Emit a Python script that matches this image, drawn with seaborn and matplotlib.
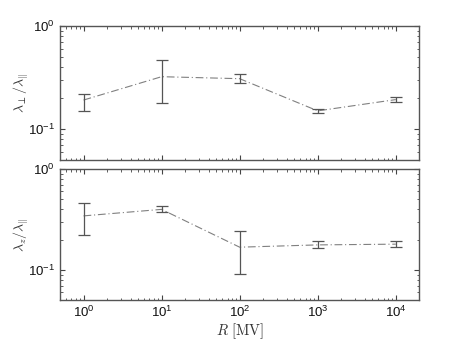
import numpy as np
import pandas as pd
import seaborn as sns
import matplotlib
matplotlib.use("Agg")
import matplotlib.pyplot as plt
from matplotlib.ticker import LogLocator, NullFormatter

# rigidity R [MV]
rigidity = [1, 10, 100, 1000, 10000]

# lambda_perp / lambda_par
perp_mid = [0.191, 0.322, 0.308, 0.150, 0.193]
perp_lo = [0.150, 0.180, 0.280, 0.144, 0.182]
perp_hi = [0.217, 0.464, 0.340, 0.156, 0.205]

# lambda_z / lambda_par
z_mid = [0.343, 0.398, 0.168, 0.177, 0.180]
z_lo = [0.224, 0.375, 0.091, 0.164, 0.168]
z_hi = [0.457, 0.430, 0.245, 0.194, 0.194]

sns.set_style("ticks")
plt.rcParams["font.family"] = ["Liberation Sans", "DejaVu Sans"]
# tick labels like 10^0 in a helvetica-ish sans
plt.rcParams["mathtext.fontset"] = "custom"
plt.rcParams["mathtext.rm"] = "Liberation Sans"
plt.rcParams["mathtext.it"] = "Liberation Sans:italic"
plt.rcParams["mathtext.bf"] = "Liberation Sans:bold"

fig = plt.figure(figsize=(4.63, 3.49), dpi=100)
ax1 = fig.add_axes([0.1296, 0.5415, 0.776, 0.384])
ax2 = fig.add_axes([0.1296, 0.1395, 0.776, 0.3763])

panels = [
    (ax1, perp_mid, perp_lo, perp_hi, r"$\lambda_\perp/\lambda_\|$"),
    (ax2, z_mid, z_lo, z_hi, r"$\lambda_z/\lambda_\|$"),
]

for ax, mid, lo, hi, lab in panels:
    df = pd.DataFrame({"R": rigidity, "val": mid})
    sns.lineplot(data=df, x="R", y="val", ax=ax, color="#808080",
                 linestyle=(0, (7, 2.5, 1, 2.5)), linewidth=0.8)
    yerr = [np.array(mid) - np.array(lo), np.array(hi) - np.array(mid)]
    ax.errorbar(rigidity, mid, yerr=yerr, fmt="none", ecolor="#555555",
                elinewidth=0.9, capsize=4.5, capthick=0.9)
    ax.set_xscale("log")
    ax.set_yscale("log")
    ax.set_xlim(0.5, 2e4)
    ax.set_ylim(0.05, 1)
    ax.set_ylabel(lab, fontsize=10, color="#333333", math_fontfamily="cm")
    ax.set_xlabel("")
    ax.yaxis.set_major_locator(LogLocator(base=10, numticks=5))
    ax.yaxis.set_minor_locator(LogLocator(base=10, subs=np.arange(2, 10), numticks=10))
    ax.yaxis.set_minor_formatter(NullFormatter())
    ax.tick_params(which="both", direction="in", top=True, right=True,
                   labelsize=9.5, color="#444444", labelcolor="#111111")
    ax.tick_params(which="major", length=3.5)
    ax.tick_params(which="minor", length=1.8)
    for s in ax.spines.values():
        s.set_color("#555555")
        s.set_linewidth(1.0)

ax1.tick_params(labelbottom=False)
ax2.set_xlabel(r"$R\ \mathrm{[MV]}$", fontsize=10.5, color="#333333",
               labelpad=1, math_fontfamily="cm")
ax1.yaxis.set_label_coords(-0.08, 0.5)
ax2.yaxis.set_label_coords(-0.08, 0.5)

fig.savefig("out.png", dpi=100, facecolor="white")
